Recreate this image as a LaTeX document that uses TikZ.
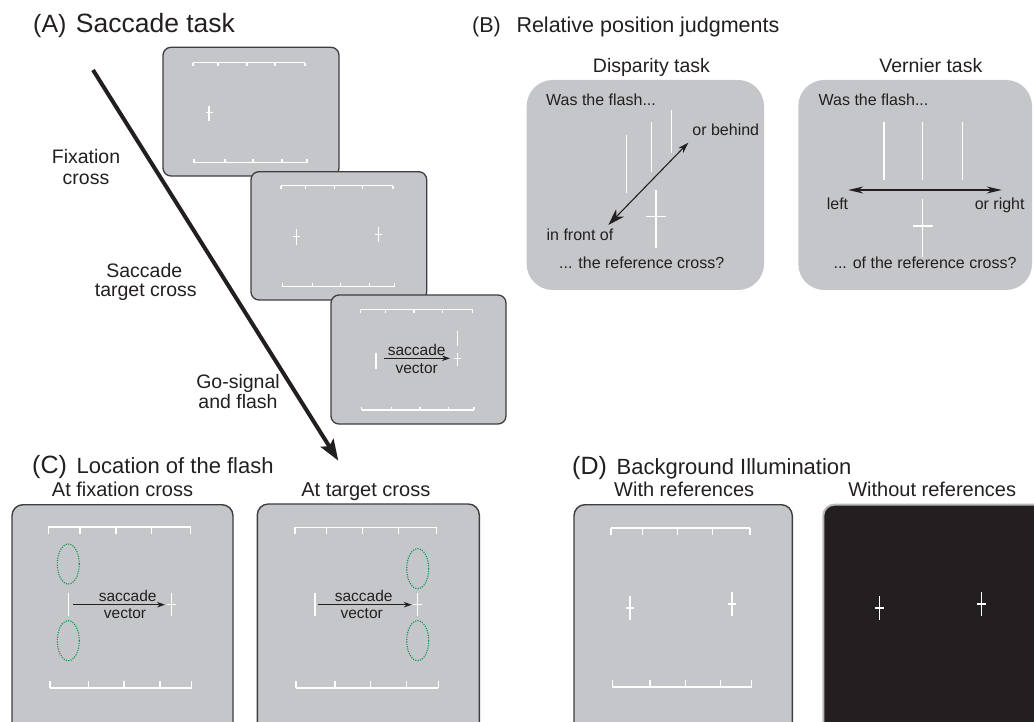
\documentclass[tikz,border=0pt]{standalone}
\usepackage{fontspec}
\setmainfont{Liberation Sans}
\usetikzlibrary{arrows.meta}
\definecolor{scr}{RGB}{197,198,202}
\definecolor{ink}{RGB}{35,31,32}
\definecolor{edge}{RGB}{62,62,64}
\definecolor{darkscr}{RGB}{35,31,32}
\definecolor{lightedge}{RGB}{185,185,188}
\definecolor{grn}{RGB}{0,150,70}
\newcommand\myfs[1]{\fontsize{#1}{#1}\selectfont}
\newcommand\myruler[5]{%
  \draw[wl] (#2,#1) -- (#3,#1);
  \foreach \xx in {#4} {\draw[wl] (\xx,#1) -- ++(0,#5);}
}
\newcommand\mycross[5]{%
  \draw[wl] (#1,#2) -- (#1,#3);
  \draw[wl] (#1-#5,#4) -- (#1+#5,#4);
}
\begin{document}
\begin{tikzpicture}[x=1pt,y=-1pt,
  screen/.style={draw=edge, line width=1.3pt, fill=scr, rounded corners=8pt},
  bigscreen/.style={draw=edge, line width=1.4pt, fill=scr, rounded corners=11pt},
  wl/.style={draw=white, line width=1.1pt},
  lbl/.style={inner sep=0pt, text=ink},
  sv/.style={draw=ink, line width=0.9pt, -{Stealth[length=8pt,width=5.5pt]}},
  ell/.style={draw=grn, line width=1.1pt, dash pattern=on 1.1pt off 1.3pt}]
\useasboundingbox (0,0) rectangle (1034,722);
\clip (0,0) rectangle (1034,722);

% ---------------- Panel A ----------------
\node[lbl, anchor=base west, font=\myfs{25}] (labA) at (33,32.5) {(A)};
\node[lbl, anchor=base west, font=\myfs{26.5}] (titA) at (75.7,32.5) {Saccade task};

% screen 1
\path[screen] (163,47.3) rectangle (339,176);
\myruler{62.7}{193}{305}{193,218,247,275,305}{3.5}
\myruler{162.7}{194}{307}{194,225,253,282,307}{-3.5}
\mycross{209}{105.7}{120.7}{112.7}{3.5}
% screen 2
\path[screen] (251,171.7) rectangle (426.7,300);
\myruler{185.7}{281}{393}{281,305.7,334.3,362.7,393}{3.5}
\myruler{286.7}{282.3}{394.3}{282.3,312.3,340.7,369.3,394.3}{-3.5}
\mycross{296.7}{229.3}{245}{236.7}{3.5}
\mycross{378.7}{226.7}{242}{234.3}{3.5}
% screen 3
\path[screen] (331,295) rectangle (506,424);
\myruler{309.3}{360.7}{472.7}{360.7,385.7,414,442.7,472.7}{3.5}
\myruler{410}{361.7}{474}{361.7,391.7,420,448.3,474}{-3.5}
\draw[wl] (376,353.3) -- (376,369);
\draw[wl] (457.7,330.7) -- (457.7,346);
\mycross{457.7}{353}{366}{358.3}{3.5}
\coordinate (sv1a) at (384.3,358.3);
\coordinate (sv1b) at (450,358.3);
\draw[sv] (sv1a) -- (sv1b);
\node[lbl, anchor=base, font=\myfs{15.5}] (sac3a) at (416.7,355) {saccade};
\node[lbl, anchor=base, font=\myfs{15.5}] (sac3b) at (416.7,373) {vector};

% big time arrow
\coordinate (ta) at (93,70);
\coordinate (tb) at (338.3,460.7);
\draw[draw=ink, line width=4pt, -{Stealth[length=21pt,width=15pt,inset=4pt]}] (ta) -- (tb);

\node[lbl, anchor=base, font=\myfs{19.5}] (fix1) at (86,163.3) {Fixation};
\node[lbl, anchor=base, font=\myfs{19.5}] (fix2) at (86,185) {cross};
\node[lbl, anchor=base, font=\myfs{19.5}] (stc1) at (144.3,277.5) {Saccade};
\node[lbl, anchor=base, font=\myfs{19.5}] (stc2) at (145.8,297) {target cross};
\node[lbl, anchor=base, font=\myfs{19.5}] (go1) at (238,388) {Go-signal};
\node[lbl, anchor=base, font=\myfs{19.5}] (go2) at (238,408) {and flash};

% ---------------- Panel B ----------------
\node[lbl, anchor=base west, font=\myfs{21.5}] (labB) at (472,32.3) {(B)};
\node[lbl, anchor=base west, font=\myfs{21.5}] (titB) at (516.3,32.3) {Relative position judgments};
\node[lbl, anchor=base, font=\myfs{19.5}] (subB1) at (651.5,72.7) {Disparity task};
\node[lbl, anchor=base, font=\myfs{19.5}] (subB2) at (930.8,72.7) {Vernier task};

\path[fill=scr, rounded corners=26pt] (526.7,80) rectangle (764,290);
\path[fill=scr, rounded corners=26pt] (798.3,80) rectangle (1032,290);

% disparity
\begin{scope}[wl/.style={draw=white, line width=1.4pt}]
\draw[wl] (626.7,135) -- (626.7,193.3);
\draw[wl] (651.7,121.7) -- (651.7,171.7);
\draw[wl] (671.7,110) -- (671.7,153.3);
\draw[wl] (656,190) -- (656,248.3);
\draw[wl] (646,216.7) -- (666,216.7);
\end{scope}
\coordinate (da) at (608.3,225);
\coordinate (db) at (688.3,142.7);
\draw[draw=ink, line width=1.1pt, {Stealth[length=17pt,width=11pt]}-{Stealth[length=11pt,width=7pt]}] (da) -- (db);
\node[lbl, anchor=base west, font=\myfs{16}] (wf1) at (546,105.4) {Was the flash...};
\node[lbl, anchor=base, font=\myfs{16}] (ob) at (725.8,135.4) {or behind};
\node[lbl, anchor=base, font=\myfs{16}] (ifr) at (580,240.4) {in front of};
\node[lbl, anchor=base, font=\myfs{16}] (rc1) at (641.7,268.7) {... the reference cross?};

% vernier
\begin{scope}[wl/.style={draw=white, line width=1.3pt}]
\draw[wl] (884,121.7) -- (884,180);
\draw[wl] (922.7,121.7) -- (922.7,180);
\draw[wl] (962.3,121.7) -- (962.3,180);
\draw[wl] (922.7,199.3) -- (922.7,256.7);
\draw[wl] (912.7,226) -- (933.3,226);
\end{scope}
\coordinate (va) at (848.3,190);
\coordinate (vb) at (1001.7,190);
\draw[draw=ink, line width=1.1pt, {Stealth[length=15pt,width=7pt]}-{Stealth[length=15pt,width=7pt]}] (va) -- (vb);
\node[lbl, anchor=base west, font=\myfs{16}] (wf2) at (818.5,105.4) {Was the flash...};
\node[lbl, anchor=base, font=\myfs{16}] (lft) at (837.5,209.4) {left};
\node[lbl, anchor=base, font=\myfs{16}] (rgt) at (999.7,209.4) {or right};
\node[lbl, anchor=base, font=\myfs{16}] (rc2) at (925,268.7) {... of the reference cross?};

% ---------------- Panel C ----------------
\node[lbl, anchor=base west, font=\myfs{25}] (labC) at (32,473) {(C)};
\node[lbl, anchor=base west, font=\myfs{22}] (titC) at (76.5,473) {Location of the flash};
\node[lbl, anchor=base, font=\myfs{20}] (subC1) at (122.5,496.3) {At fixation cross};
\node[lbl, anchor=base, font=\myfs{20}] (subC2) at (365.8,496) {At target cross};

\begin{scope}[wl/.style={draw=white, line width=1.4pt}]
% C1
\path[bigscreen] (12,504.7) rectangle (233,745);
\myruler{527}{48.3}{190.7}{48.3,80,116,151.7,190.7}{7}
\myruler{688}{50}{191.7}{50,88.3,124,160,191.7}{-7}
\draw[ell] (68.3,564) ellipse [x radius=11pt, y radius=20pt];
\draw[ell] (68.3,640.7) ellipse [x radius=11pt, y radius=20pt];
\draw[wl] (68.3,593) -- (68.3,615.7);
\mycross{171.7}{593}{615.7}{604.7}{4.5}
\coordinate (c1a) at (72.7,604.7);
\coordinate (c1b) at (165,604.7);
\draw[sv] (c1a) -- (c1b);
\node[lbl, anchor=base, font=\myfs{15.5}] (c1s) at (127.7,601.3) {saccade};
\node[lbl, anchor=base, font=\myfs{15.5}] (c1v) at (125,618) {vector};
% C2
\path[bigscreen] (257.3,504) rectangle (479.3,745);
\myruler{527.3}{295}{436.7}{295,326.7,362.3,398.3,436.7}{7}
\myruler{688}{296}{438.3}{296,335,370.7,406.7,438.3}{-7}
\draw[ell] (417.7,568.7) ellipse [x radius=11pt, y radius=20pt];
\draw[ell] (417.7,640.7) ellipse [x radius=11pt, y radius=20pt];
\draw[wl] (315,593) -- (315,615.7);
\mycross{417.7}{593}{615.7}{604.7}{4.5}
\coordinate (c2a) at (318.3,604.7);
\coordinate (c2b) at (411.7,604.7);
\draw[sv] (c2a) -- (c2b);
\node[lbl, anchor=base, font=\myfs{15.5}] (c2s) at (363.7,601.3) {saccade};
\node[lbl, anchor=base, font=\myfs{15.5}] (c2v) at (361.7,618) {vector};
\end{scope}

% ---------------- Panel D ----------------
\node[lbl, anchor=base west, font=\myfs{25}] (labD) at (572,474) {(D)};
\node[lbl, anchor=base west, font=\myfs{22}] (titD) at (616.5,474) {Background Illumination};
\node[lbl, anchor=base, font=\myfs{20}] (subD1) at (684.2,496) {With references};
\node[lbl, anchor=base, font=\myfs{20}] (subD2) at (932.2,496) {Without references};

\begin{scope}[wl/.style={draw=white, line width=1.4pt}]
\path[bigscreen] (574,504.7) rectangle (792.3,745);
\myruler{528}{611}{750}{611,642.3,677.3,712.3,750}{7}
\myruler{687}{612.3}{751.7}{612.3,650,685.7,720.7,751.7}{-7}
\mycross{630}{596.3}{619.7}{608}{4}
\mycross{732}{592.3}{615.7}{604}{4}
\path[fill=darkscr, draw=lightedge, line width=2pt, rounded corners=11pt] (823.3,504.7) rectangle (1065,745);
\mycross{879.3}{596.3}{620.3}{608}{4.5}
\mycross{981.7}{592.3}{616.3}{604}{4.5}
\end{scope}
\end{tikzpicture}
\end{document}
